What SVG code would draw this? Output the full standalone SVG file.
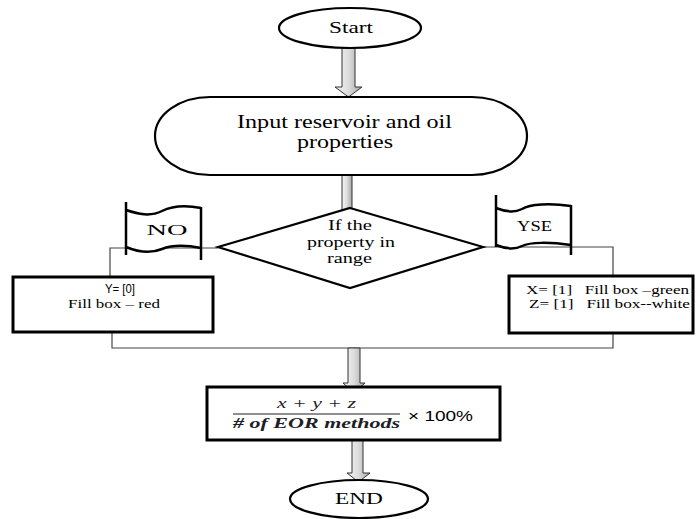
<svg xmlns="http://www.w3.org/2000/svg" width="700" height="519" viewBox="0 0 700 519">
  <defs>
    <linearGradient id="arrowFill" x1="0" y1="0" x2="1" y2="0">
      <stop offset="0" stop-color="#f6f6f6"/>
      <stop offset="0.5" stop-color="#dcdcdc"/>
      <stop offset="1" stop-color="#a8a8a8"/>
    </linearGradient>
    <style>
      .shape { fill: #ffffff; stroke: #000000; stroke-width: 2.2; }
      .box { fill: #ffffff; stroke: #000000; stroke-width: 3; }
      .link { fill: none; stroke: #444444; stroke-width: 1.2; }
      .block { fill: url(#arrowFill); stroke: #333333; stroke-width: 1; }
      .edge { fill: none; stroke: #000000; stroke-width: 2.5; }
      .t { font-family: "Liberation Serif", "Times New Roman", serif; fill: #000000; text-anchor: middle; }
      .ts { font-family: "Liberation Sans", Arial, sans-serif; fill: #000000; text-anchor: middle; }
      .math { font-family: "Liberation Serif", "Times New Roman", serif; font-style: italic; fill: #1e1e28; text-anchor: middle; }
    </style>
  </defs>

  <!-- connectors -->
  <g id="connectors">
    <polyline class="link" points="218,248 110,248 110,277"/>
    <polyline class="link" points="483,247 613,247 613,276"/>
    <polyline class="link" points="112,332 112,348 613,348 613,333"/>
    <!-- block arrows -->
    <path class="block" d="M342,48 H355 V87 H362 L348.5,97 L335,87 H342 Z"/>
    <path class="block" d="M342,175 H352 V212 H342 Z"/>
    <path class="block" d="M348,348 H360 V383 H365 L354,393 L343,383 H348 Z"/>
    <path class="block" d="M352,440 H363 V473 H370 L358.5,482 L347,473 H352 Z"/>
  </g>

  <g id="start">
    <ellipse class="shape" cx="350" cy="28" rx="71" ry="20"/>
    <text class="t" x="351" y="33" font-size="17" textLength="44" lengthAdjust="spacingAndGlyphs">Start</text>
  </g>

  <g id="input">
    <rect class="shape" x="155" y="97" width="372" height="78" rx="55" ry="39"/>
    <text class="t" x="344.5" y="128" font-size="18" textLength="215" lengthAdjust="spacingAndGlyphs">Input reservoir and oil</text>
    <text class="t" x="345" y="148" font-size="18" textLength="96" lengthAdjust="spacingAndGlyphs">properties</text>
  </g>

  <g id="decision">
    <polygon class="shape" stroke-width="2.6" points="350,208 483,247 350,288 218,247"/>
    <text class="t" x="350" y="230" font-size="14" textLength="44" lengthAdjust="spacingAndGlyphs">If the</text>
    <text class="t" x="351" y="247" font-size="14" textLength="88" lengthAdjust="spacingAndGlyphs">property in</text>
    <text class="t" x="349.5" y="263" font-size="14" textLength="45" lengthAdjust="spacingAndGlyphs">range</text>
  </g>

  <g id="flag-no">
    <path fill="#ffffff" stroke="none" d="M126,210 C138,214 150,217 162,211 C172,206 186,205 201,208 L201,248 C186,245 172,245 162,249 C150,254 138,252 126,247 Z"/>
    <path class="edge" d="M126,210 C138,214 150,217 162,211 C172,206 186,205 201,208"/>
    <path class="edge" d="M126,247 C138,252 150,254 162,249 C172,245 186,245 201,248"/>
    <line class="edge" x1="126" y1="202" x2="126" y2="255"/>
    <line class="edge" x1="201" y1="207" x2="201" y2="260"/>
    <text class="t" x="167" y="235" font-size="15" textLength="41" lengthAdjust="spacingAndGlyphs">NO</text>
  </g>

  <g id="flag-yes">
    <path fill="#ffffff" stroke="none" d="M496,208 C506,212 514,213 522,209 C530,204 550,203 571,206 L571,245 C550,242 530,242 522,246 C514,250 506,249 496,245 Z"/>
    <path class="edge" d="M496,208 C506,212 514,213 522,209 C530,204 550,203 571,206"/>
    <path class="edge" d="M496,245 C506,249 514,250 522,246 C530,242 550,242 571,245"/>
    <line class="edge" x1="496" y1="195" x2="496" y2="247"/>
    <line class="edge" x1="571" y1="205" x2="571" y2="255"/>
    <text class="t" x="534.5" y="231" font-size="15" textLength="35" lengthAdjust="spacingAndGlyphs">YSE</text>
  </g>

  <g id="result-no">
    <rect class="box" x="13" y="277" width="200" height="55"/>
    <text class="ts" x="120" y="293" font-size="13" textLength="30" lengthAdjust="spacingAndGlyphs">Y= [0]</text>
    <text class="t" x="114" y="308" font-size="13" textLength="92" lengthAdjust="spacingAndGlyphs">Fill box – red</text>
  </g>

  <g id="result-yes">
    <rect class="box" x="509" y="276" width="184" height="57"/>
    <text class="t" x="607.5" y="294" font-size="12" textLength="163" lengthAdjust="spacingAndGlyphs" xml:space="preserve">X= [1]   Fill box –green</text>
    <text class="t" x="609.5" y="308" font-size="12" textLength="161" lengthAdjust="spacingAndGlyphs" xml:space="preserve">Z= [1]   Fill box--white</text>
  </g>

  <g id="score">
    <rect class="box" x="207" y="387" width="293" height="53"/>
    <text class="math" x="316.5" y="408" font-size="14" textLength="79" lengthAdjust="spacingAndGlyphs">x + y + z</text>
    <line x1="233" y1="414" x2="400" y2="414" stroke="#1e1e28" stroke-width="1.2"/>
    <text class="math" x="316.5" y="428" font-size="14" font-weight="bold" textLength="167" lengthAdjust="spacingAndGlyphs"># of EOR methods</text>
    <text class="ts" x="440.5" y="421" font-size="15" fill="#1e1e28" textLength="65" lengthAdjust="spacingAndGlyphs">× 100%</text>
  </g>

  <g id="end">
    <ellipse class="shape" cx="359" cy="499" rx="69" ry="19"/>
    <text class="t" x="359" y="504" font-size="17" textLength="48" lengthAdjust="spacingAndGlyphs">END</text>
  </g>
</svg>
